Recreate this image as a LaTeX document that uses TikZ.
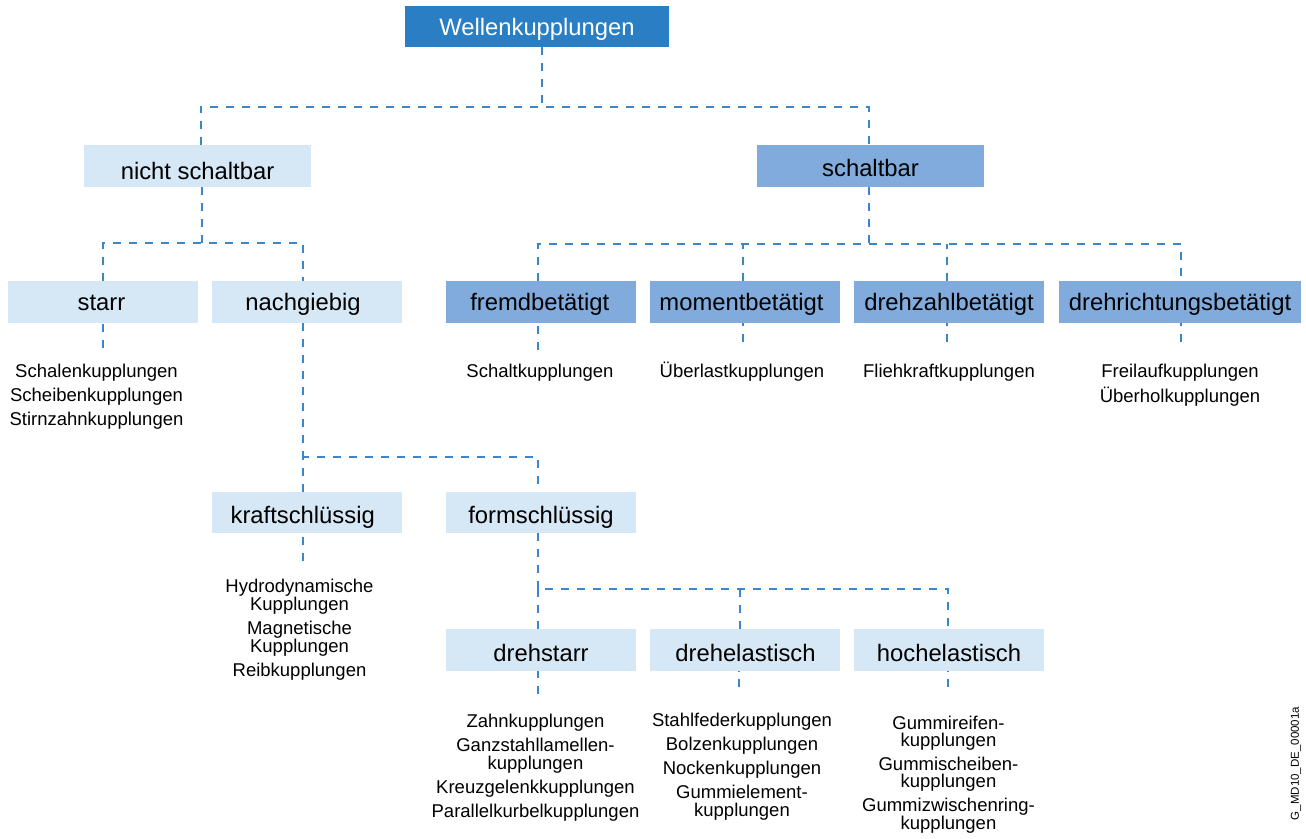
\documentclass[tikz,border=0pt]{standalone}
\usepackage{fontspec}
\setmainfont{Liberation Sans}
\definecolor{topblue}{HTML}{2A7EC3}
\definecolor{midblue}{HTML}{80ABDC}
\definecolor{lightblue}{HTML}{D6E7F5}
\definecolor{lineblue}{HTML}{3A86C8}
\newcommand\txs[2]{\hspace*{#1pt}#2\hspace*{-#1pt}}
\begin{document}
\begin{tikzpicture}[x=1pt,y=-1pt,
  box/.style={rectangle, inner sep=0pt, outer sep=0pt, minimum height=42pt,
    text height=17.8pt, text depth=0pt, font=\fontsize{23.8pt}{26pt}\selectfont, text=black},
  light/.style={box, fill=lightblue},
  mid/.style={box, fill=midblue},
  conn/.style={draw=lineblue, line width=2pt, dash pattern=on 8pt off 8pt},
  list/.style={anchor=north, inner sep=0pt, align=center, font=\fontsize{18.5pt}{18pt}\selectfont},
]
\useasboundingbox (0,0) rectangle (1306,838);
\fill[white] (0,0) rectangle (1306,838);

% boxes
\node[box, fill=topblue, text=white, minimum width=264pt, minimum height=41pt, text height=18.4pt] (top) at (537,26.5) {Wellenkupplungen};
\node[light, minimum width=227pt, text height=27pt] (nicht) at (197.5,166) {nicht schaltbar};
\node[mid, minimum width=227pt, text height=20.4pt] (schalt) at (870.5,166) {schaltbar};
\node[light, minimum width=190pt] (starr) at (103,302) {\txs{-1.5}{starr}};
\node[light, minimum width=190pt] (nach) at (307,302) {\txs{-4}{nachgiebig}};
\node[mid, minimum width=190pt] (fremd) at (541,302) {\txs{-1.3}{fremdbetätigt}};
\node[mid, minimum width=190pt] (moment) at (745,302) {\txs{-3.5}{momentbetätigt}};
\node[mid, minimum width=190pt] (drehz) at (949,302) {drehzahlbetätigt};
\node[mid, minimum width=242pt] (drehr) at (1180,302) {drehrichtungsbetätigt};
\node[light, minimum width=190pt, minimum height=41pt, text height=21pt] (kraft) at (307,512.5) {\txs{-4.3}{kraftschlüssig}};
\node[light, minimum width=190pt, minimum height=41pt, text height=22pt] (form) at (541,512.5) {formschlüssig};
\node[light, minimum width=190pt, minimum height=41.5pt, text height=23.8pt] (dstarr) at (541,649.8) {drehstarr};
\node[light, minimum width=190pt, minimum height=41.5pt, text height=23.8pt] (delast) at (745,649.8) {\txs{0.5}{drehelastisch}};
\node[light, minimum width=190pt, minimum height=41.5pt, text height=23.8pt] (helast) at (949,649.8) {hochelastisch};

% connectors
\coordinate (b1) at (542,106.5);
\draw[conn] (top.south -| b1) -- (b1);
\draw[conn] ([xshift=3pt]nicht.north) |- (b1) -| ([xshift=-1.5pt]schalt.north);

\coordinate (b2) at (202,243.3);
\draw[conn] (nicht.south -| b2) -- (b2);
\draw[conn] ([xshift=-0.3pt]starr.north) |- (b2) -| ([xshift=-3.7pt]nach.north);

\coordinate (b3) at (869,244);
\draw[conn] (schalt.south -| b3) -- (b3);
\draw[conn] ([xshift=-3.3pt]fremd.north) |- (b3) -| ([xshift=1pt]drehr.north);
\draw[conn] ([xshift=-1.7pt]moment.north) -- ([xshift=-1.7pt]moment.north |- b3);
\draw[conn] ([xshift=-2.3pt]drehz.north) -- ([xshift=-2.3pt]drehz.north |- b3);

\coordinate (s1) at (102.7,348);
\coordinate (s2) at (537.7,350);
\coordinate (s3) at (743.3,342);
\coordinate (s4) at (946.7,342);
\coordinate (s5) at (1181,342);
\draw[conn] (s1) -- (starr.south -| s1);
\draw[conn] (s2) -- (fremd.south -| s2);
\draw[conn] (s3) -- (moment.south -| s3);
\draw[conn] (s4) -- (drehz.south -| s4);
\draw[conn] (s5) -- (drehr.south -| s5);

\coordinate (b4) at (303.3,457.3);
\draw[conn] (nach.south -| b4) -- (b4);
\draw[conn] ([xshift=-3.7pt]kraft.north) |- (b4) -| ([xshift=-3.3pt]form.north);
\coordinate (s6) at (303.3,561);
\draw[conn] (s6) -- (kraft.south -| s6);

\coordinate (b5) at (537.7,588.5);
\draw[conn] (form.south -| b5) -- (b5);
\draw[conn] ([xshift=-3.3pt]dstarr.north) |- (b5) -| ([xshift=-1pt]helast.north);
\draw[conn] ([xshift=-5pt]delast.north) -- ([xshift=-5pt]delast.north |- b5);
\coordinate (s7) at (537.7,693.5);
\coordinate (s8) at (739,687);
\coordinate (s9) at (947.5,687);
\draw[conn] (s7) -- (dstarr.south -| s7);
\draw[conn] (s8) -- (delast.south -| s8);
\draw[conn] (s9) -- (helast.south -| s9);

% lists
\node[list] (t1) at (96.5,360.8) {\rule{0pt}{16.5pt}Schalenkupplungen\\[6pt]Scheibenkupplungen\\[6pt]Stirnzahnkupplungen};
\node[list] (t2) at (540,360.5) {\rule{0pt}{16.5pt}Schaltkupplungen};
\node[list] (t3) at (742,360.5) {\rule{0pt}{16.5pt}Überlastkupplungen};
\node[list] (t4) at (949,360.5) {\rule{0pt}{16.5pt}Fliehkraftkupplungen};
\node[list] (t5) at (1180,360.5) {\rule{0pt}{16.5pt}Freilaufkupplungen\\[5pt]Überholkupplungen};
\node[list] (t6) at (299.5,575.8) {\rule{0pt}{16.5pt}Hydrodynamische\\Kupplungen\\[6pt]Magnetische\\Kupplungen\\[6pt]Reibkupplungen};
\node[list] (t7) at (535.5,710.8) {\rule{0pt}{16.5pt}Zahnkupplungen\\[6pt]Ganzstahllamellen-\\kupplungen\\[6pt]Kreuzgelenkkupplungen\\[6pt]Parallelkurbelkupplungen};
\node[list] (t8) at (742,710.2) {\rule{0pt}{16.5pt}Stahlfederkupplungen\\[6pt]Bolzenkupplungen\\[6pt]Nockenkupplungen\\[6pt]Gummielement-\\kupplungen};
\node[list, font=\fontsize{18.5pt}{17pt}\selectfont] (t9) at (948.5,712.5) {\rule{0pt}{16.5pt}Gummireifen-\\kupplungen\\[6pt]Gummischeiben-\\kupplungen\\[6pt]Gummizwischenring-\\kupplungen};

\node[rotate=90, inner sep=0pt, font=\fontsize{11.5pt}{12pt}\selectfont] (code) at (1296,763.5) {G\_MD10\_DE\_00001a};
\end{tikzpicture}
\end{document}
